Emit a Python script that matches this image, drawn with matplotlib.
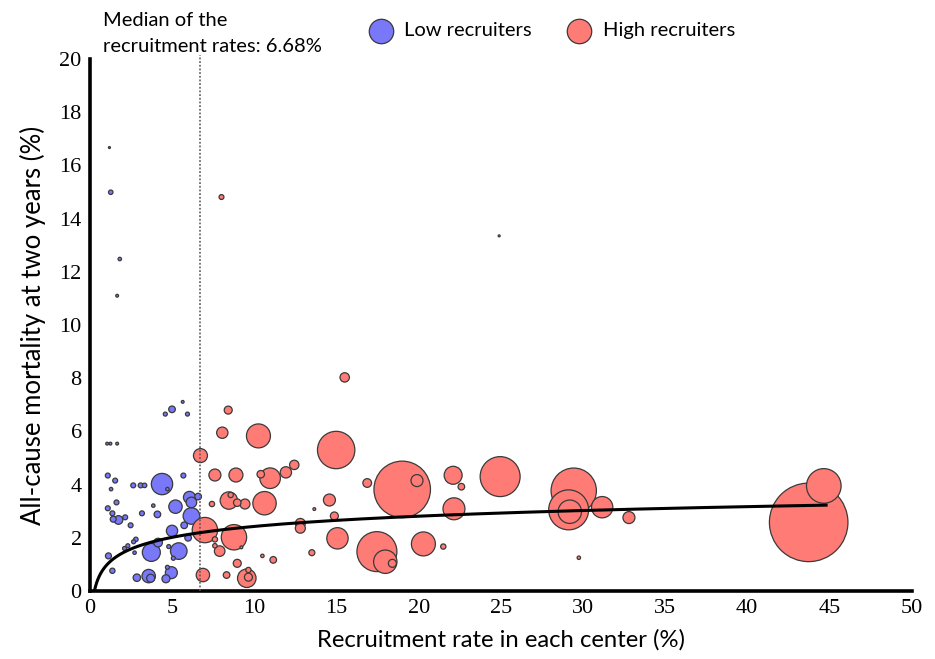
import numpy as np
import matplotlib.pyplot as plt

# centres below the median recruitment rate
low_rate = [1.18, 1.26, 1.81, 1.65, 5.64, 4.99, 4.58, 5.93, 1.04, 1.24, 1.65,
            4.38, 1.08, 1.53, 1.28, 2.63, 3.08, 3.32, 5.68, 4.71, 6.05, 6.58,
            6.17, 5.20, 3.85, 1.61, 1.08, 1.36, 3.16, 4.10, 6.17, 5.73, 1.41,
            1.73, 2.14, 2.47, 4.99, 5.97, 4.14, 3.73, 5.40, 2.79, 2.65, 2.30,
            2.10, 2.71, 1.12, 4.79, 5.07, 1.36, 2.85, 3.57, 3.69, 4.95, 4.62,
            4.71, 6.58]
low_mort = [16.67, 14.99, 12.48, 11.10, 7.11, 6.83, 6.65, 6.65, 5.54, 5.54, 5.54,
            4.02, 4.34, 4.15, 3.83, 3.97, 3.97, 3.97, 4.34, 3.83, 3.52, 3.55,
            3.33, 3.17, 3.21, 3.33, 3.11, 2.92, 2.92, 2.88, 2.82, 2.47, 2.70,
            2.67, 2.77, 2.47, 2.26, 2.00, 1.82, 1.45, 1.50, 1.94, 1.85, 1.70,
            1.60, 1.44, 1.32, 1.67, 1.23, 0.76, 0.50, 0.56, 0.48, 0.69, 0.46,
            0.89, 2.13]
low_size = [1, 5, 3, 2, 2, 11, 4, 4, 2, 2, 2,
            114, 6, 6, 3, 6, 6, 5, 6, 3, 36, 11,
            28, 45, 3, 6, 6, 6, 6, 11, 69, 11, 9,
            19, 6, 6, 32, 11, 19, 81, 69, 5, 4, 4,
            4, 3, 9, 4, 4, 7, 14, 45, 16, 36, 16,
            4, 16]

# centres above the median recruitment rate
high_rate = [8.00, 24.90, 8.41, 8.05, 10.25, 6.72, 14.98, 12.43, 11.92, 10.96,
             10.39, 7.60, 8.88, 8.45, 8.56, 8.96, 9.43, 10.62, 7.42, 14.57,
             13.65, 14.87, 12.80, 12.80, 6.99, 8.76, 7.60, 7.60, 9.21, 7.89,
             10.49, 11.15, 13.50, 8.96, 9.64, 9.54, 9.64, 8.31, 6.87, 15.50,
             19.00, 19.90, 22.10, 22.60, 22.15, 16.87, 15.06, 17.46, 17.97,
             18.40, 20.29, 21.50, 24.96, 29.44, 29.13, 29.20, 31.17, 32.80,
             29.75, 43.74, 44.66]
high_mort = [14.81, 13.35, 6.80, 5.95, 5.83, 5.09, 5.30, 4.74, 4.46, 4.24,
             4.39, 4.36, 4.36, 3.40, 3.61, 3.32, 3.27, 3.30, 3.27, 3.42,
             3.08, 2.82, 2.54, 2.36, 2.29, 2.02, 1.94, 1.70, 1.64, 1.50,
             1.32, 1.17, 1.44, 1.04, 0.79, 0.48, 0.52, 0.60, 0.60, 8.03,
             3.82, 4.15, 4.35, 3.92, 3.09, 4.06, 1.98, 1.48, 1.10,
             1.04, 1.77, 1.67, 4.30, 3.77, 3.05, 2.98, 3.15, 2.76,
             1.25, 2.58, 3.95]
high_size = [6, 1, 16, 32, 144, 49, 350, 22, 32, 106,
             14, 36, 49, 76, 7, 14, 25, 137, 7, 36,
             2, 16, 25, 25, 161, 161, 7, 5, 2, 28,
             3, 11, 9, 16, 7, 86, 16, 11, 45, 22,
             800, 36, 81, 11, 121, 19, 114, 400, 137,
             16, 144, 7, 400, 515, 400, 137, 114, 36,
             3, 1545, 300]

median_rate = 6.68
# fitted trend: mortality = a + b*ln(x) + c*ln(x)^2
trend_a, trend_b, trend_c = 0.968, 0.695, -0.0265
trend_start, trend_end = 0.26, 44.8

blue = '#7878F8'
red = '#FF7B75'
edge = '#3a3a3a'
area_scale = 2.07

fig = plt.figure(figsize=(9.35, 6.59), dpi=100)
ax = fig.add_axes([0.0963, 0.1032, 0.8786, 0.8073])


def bubbles(xs, ys, ns, color, z):
    order = np.argsort(ns)[::-1]
    xs, ys, ns = np.array(xs)[order], np.array(ys)[order], np.array(ns)[order]
    ax.scatter(xs, ys, s=ns * area_scale, c=color, edgecolors=edge,
               linewidths=0.9, zorder=z)


bubbles(low_rate, low_mort, low_size, blue, 2)
bubbles(high_rate, high_mort, high_size, red, 3)

xt = np.geomspace(trend_start, trend_end, 400)
lt = np.log(xt)
yt = np.clip(trend_a + trend_b * lt + trend_c * lt ** 2, 0, None)
ax.plot(xt, yt, color='black', lw=2.2, zorder=5)

ax.plot([median_rate, median_rate], [0, 20.15], color='#555555', lw=1.1,
        linestyle=(0, (1.2, 1.2)), zorder=4, clip_on=False)
ax.text(0.0155, 1.088, 'Median of the\nrecruitment rates: 6.68%',
        transform=ax.transAxes, ha='left', va='top', fontsize=14.5,
        family='Lato', linespacing=1.6)

# legend
ax.scatter([0.354], [1.053], s=310, c=blue, edgecolors=edge, linewidths=0.9,
           transform=ax.transAxes, clip_on=False)
ax.text(0.382, 1.053, 'Low recruiters', transform=ax.transAxes,
        va='center', ha='left', fontsize=14.5, family='Lato')
ax.scatter([0.595], [1.053], s=310, c=red, edgecolors=edge, linewidths=0.9,
           transform=ax.transAxes, clip_on=False)
ax.text(0.624, 1.053, 'High recruiters', transform=ax.transAxes,
        va='center', ha='left', fontsize=14.5, family='Lato')

ax.set_xlim(0, 50)
ax.set_ylim(0, 20)
ax.set_xticks(np.arange(0, 51, 5))
ax.set_yticks(np.arange(0, 21, 2))
for lab in ax.get_xticklabels() + ax.get_yticklabels():
    lab.set_family('Liberation Serif')
    lab.set_fontsize(16)
ax.tick_params(length=0, pad=6)

ax.set_xlabel('Recruitment rate in each center (%)', fontsize=17.2,
              family='Lato', labelpad=8)
ax.set_ylabel('All-cause mortality at two years (%)', fontsize=18.5,
              family='Lato', labelpad=10)

for side in ['top', 'right']:
    ax.spines[side].set_visible(False)
for side in ['left', 'bottom']:
    ax.spines[side].set_linewidth(2.6)

fig.savefig('out.png', dpi=100)
